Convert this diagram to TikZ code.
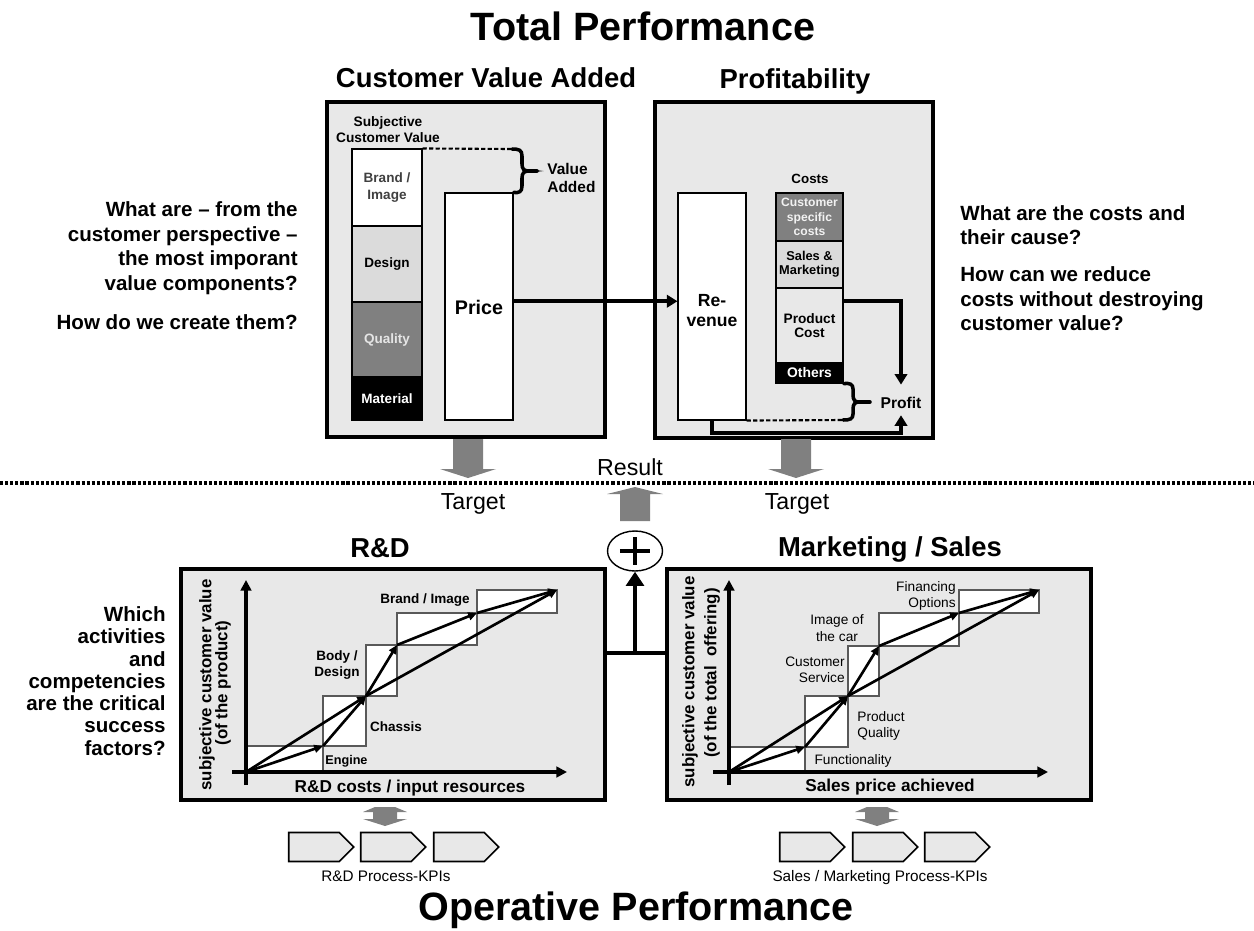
\documentclass[tikz,border=0pt]{standalone}
\usepackage{fontspec}
\setmainfont{Liberation Sans}
\usetikzlibrary{arrows.meta,fit,calc,shapes.geometric,shapes.symbols}

\definecolor{panelbg}{gray}{0.91}
\definecolor{lightfill}{gray}{0.86}
\definecolor{midfill}{gray}{0.5}
\definecolor{arrowgray}{gray}{0.5}
\definecolor{paletext}{gray}{0.9}

\newcommand\fsz[2]{\fontsize{#1pt}{#2pt}\selectfont}

\tikzset{
  panel/.style={draw, line width=2.6pt, fill=panelbg, inner sep=0pt},
  colbox/.style={draw, line width=0.6pt, inner sep=0pt},
  boxtext/.style={inner sep=0pt, align=center, font=\fsz{7.7}{9.4}\bfseries},
  stepbox/.style={draw=black!65, line width=0.6pt, fill=white},
  heading/.style={font=\fsz{15.6}{18}\bfseries, anchor=base, inner sep=0pt},
  bigtitle/.style={font=\fsz{22.5}{26}\bfseries, anchor=base, inner sep=0pt},
  question/.style={font=\fsz{11.7}{14}\bfseries, inner sep=0pt},
  flowarrow/.style={line width=2.3pt, -{Triangle[length=6pt,width=7pt]}},
  flowline/.style={line width=2.3pt},
  bracket/.style={line width=2pt, line cap=round},
  gapline/.style={line width=1.2pt, dash pattern=on 2.4pt off 1.3pt},
  separator/.style={line width=1.8pt, dash pattern=on 1.8pt off 1.1pt},
  axis/.style={line width=2.2pt, -{Triangle[length=6pt,width=6pt]}},
  gain/.style={line width=1.5pt, -{Triangle[length=5pt,width=4.5pt]}},
  steplabel/.style={font=\fsz{7.7}{9.2}\bfseries, inner sep=0pt, align=center},
  offerlabel/.style={font=\fsz{7.8}{9.4}, inner sep=0pt},
  axislabel/.style={font=\fsz{9.8}{11}\bfseries, inner sep=0pt},
  ylabel/.style={font=\fsz{9.6}{11}\bfseries, rotate=90, inner sep=0pt},
  chevron/.style={signal, signal to=east, signal pointer angle=90, draw, line width=0.9pt,
    fill=panelbg, minimum width=1.3cm, minimum height=0.58cm, inner sep=0pt},
  kpilabel/.style={font=\fsz{8.7}{10}, inner sep=0pt, anchor=base},
  marker/.style={font=\fsz{13.2}{15}, inner sep=0pt},
  pics/down gray/.style={code={\fill[arrowgray] (-15,0) -- (15,0) -- (15,30) -- (28,30) -- (0,39) -- (-28,30) -- (-15,30) -- cycle;}},
  pics/up gray/.style={code={\fill[arrowgray] (-15,0) -- (15,0) -- (15,-27) -- (28,-27) -- (0,-34) -- (-28,-27) -- (-15,-27) -- cycle;}},
  pics/updown gray/.style={code={\fill[arrowgray] (-10,-9) -- (10,-9) -- (22,-4) -- (12,-4) -- (12,3) -- (22,3) -- (0,10) -- (-22,3) -- (-12,3) -- (-12,-4) -- (-22,-4) -- cycle;}},
}

\begin{document}
\begin{tikzpicture}[x=0.02cm, y=-0.02cm]
\useasboundingbox[fill=white] (0,0) rectangle (1254,930);

% ---------- titles ----------
\node[bigtitle] (tp) at (643,40) {Total Performance};
\node[heading] (cvat) at (486,87) {Customer Value Added};
\node[heading] (proft) at (795,88) {Profitability};

% ---------- customer value added ----------
\node[panel, fit={(327,102) (605,437)}] (cva) {};
\node[font=\fsz{7.8}{9}\bfseries, align=center, inner sep=0pt] (scv) at (388,130) {Subjective\\Customer Value};
\node[colbox, fill=white, fit={(352,149) (422,226)}] (brand) {};
\node[boxtext, text=black!75] (brandt) at (brand.center) {Brand /\\Image};
\node[colbox, fill=lightfill, fit={(352,226) (422,302)}] (design) {};
\node[boxtext] (designt) at (design.center) {Design};
\node[colbox, fill=midfill, fit={(352,302) (422,377)}] (quality) {};
\node[boxtext, text=paletext] (qualityt) at (quality.center) {Quality};
\node[colbox, fill=black, fit={(352,377) (422,420)}] (material) {};
\node[boxtext, text=white] (materialt) at (material.center) {Material};
\node[colbox, fill=white, fit={(445,193) (513,420)}] (price) {};
\node[boxtext, font=\fsz{11.2}{13}\bfseries] (pricet) at ([yshift=-0.8pt]price.center) {Price};
\draw[gapline] (brand.north east) -- (512,149);
\draw[bracket] (512,149) .. controls (519,149) and (522,150) .. (522,156) -- (522,164)
  .. controls (522,169) and (524,171) .. (529,171)
  .. controls (524,171) and (522,173) .. (522,178) -- (522,186)
  .. controls (522,192) and (519,193) .. (price.north east);
\draw[bracket] (529,171) -- (537,171);
\node[font=\fsz{8.8}{10.6}\bfseries, align=left, anchor=west, inner sep=0pt] (va) at (547,178) {Value\\Added};

% ---------- profitability ----------
\node[panel, fit={(655,102) (933,438)}] (prof) {};
\node[font=\fsz{7.6}{9}\bfseries, inner sep=0pt] (costs) at (810,179) {Costs};
\node[colbox, fill=midfill, fit={(776,193) (843,241)}] (csc) {};
\node[boxtext, text=white!95!black, font=\fsz{6.9}{8.2}\bfseries] (csct) at (csc.center) {Customer\\specific\\costs};
\node[colbox, fill=lightfill, fit={(776,241) (843,288)}] (sales) {};
\node[boxtext, font=\fsz{7.3}{8.2}\bfseries] (salest) at (sales.center) {Sales \&\\Marketing};
\node[colbox, fill=panelbg, fit={(776,288) (843,363)}] (pcost) {};
\node[boxtext, font=\fsz{7.8}{8.2}\bfseries] (pcostt) at (pcost.center) {Product\\Cost};
\node[colbox, fill=black, fit={(776,363) (843,383)}] (others) {};
\node[boxtext, text=white, font=\fsz{7.9}{9}\bfseries] (otherst) at (others.center) {Others};
\node[colbox, fill=white, fit={(678,193) (746,420)}] (rev) {};
\node[boxtext, font=\fsz{10}{11.3}\bfseries] (revt) at ([yshift=-2.5pt]rev.center) {Re-\\venue};
\node[font=\fsz{8.9}{10}\bfseries, inner sep=2pt] (profit) at (901,403) {Profit};
\draw[gapline] (rev.south east) -- (843,420);
\draw[bracket] (others.south east) .. controls (850,383) and (853,384) .. (853,389) -- (853,395)
  .. controls (853,400) and (855,402) .. (859,402)
  .. controls (855,402) and (853,404) .. (853,409) -- (853,414)
  .. controls (853,419) and (850,420) .. (843,420);
\draw[bracket] (859,402) -- (870,402);

% flows between the panels
\draw[flowarrow] ([yshift=3pt]price.east) -- ([yshift=3pt]rev.west);
\draw[flowarrow] ([yshift=14pt]pcost.east) -| ([yshift=5pt]profit.north);
\draw[flowarrow] (rev.south) -- ++(0,12) -| ([yshift=-1.5pt]profit.south);

% ---------- questions ----------
\node[question, align=right, anchor=east] (q1) at (298,248) {What are – from the\\customer perspective –\\the most imporant\\value components?};
\node[question, anchor=east] (q2) at (298,322) {How do we create them?};
\node[question, align=left, anchor=west] (q3) at (960,225) {What are the costs and\\their cause?};
\node[question, align=left, anchor=west] (q4) at (960,299) {How can we reduce\\costs without destroying\\customer value?};
\node[question, align=right, anchor=east, font=\fsz{11.7}{12.65}\bfseries] (q5) at (166,681) {Which\\activities\\and\\competencies\\are the critical\\success\\factors?};

% ---------- target / result band ----------
\pic at (468,439) {down gray};
\pic at (796,439) {down gray};
\coordinate (sepL) at (0,483);
\coordinate (sepR) at (1254,483);
\draw[separator] (sepL) -- (sepR);
\node[marker] (res) at (630,467) {Result};
\node[marker] (tg1) at (473,504) {Target};
\node[marker] (tg2) at (797,504) {Target};
\pic at (635,521) {up gray};
\node[ellipse, draw, line width=0.8pt, fill=white, minimum width=1.1cm, minimum height=0.8cm,
  inner sep=0pt] (plus) at (635,551) {};
\draw[line width=2.8pt] ([xshift=-8.6pt]plus.center) -- ([xshift=8.6pt]plus.center);
\draw[line width=2.8pt] ([yshift=-7.8pt]plus.center) -- ([yshift=7.8pt]plus.center);

% ---------- R&D ----------
\node[heading] (rdt) at (380,557) {R\&D};
\node[panel, fit={(181,569) (605,800)}] (rd) {};
\coordinate (r0) at (246,772);
\coordinate (r1) at (323,746);
\coordinate (r2) at (366,696);
\coordinate (r3) at (397,645);
\coordinate (r4) at (477,613);
\coordinate (r5) at (557,590);
\foreach \a/\b in {r0/r1,r1/r2,r2/r3,r3/r4,r4/r5} \draw[stepbox] (\a) rectangle (\b);
\coordinate (rxa) at (232,772); \coordinate (rxb) at (567,772);
\coordinate (rya) at (246,785); \coordinate (ryb) at (246,580);
\draw[axis] (rxa) -- (rxb);
\draw[axis] (rya) -- (ryb);
\foreach \a/\b in {r0/r1,r1/r2,r2/r3,r3/r4,r4/r5,r0/r2,r2/r5} \draw[gain] (\a) -- (\b);
\node[steplabel, anchor=west, font=\fsz{7.2}{9}\bfseries] (eng) at (325,761) {Engine};
\node[steplabel] (chs) at (396,727) {Chassis};
\node[steplabel] (bod) at (337,665) {Body /\\Design};
\node[steplabel] (bri) at (425,600) {Brand / Image};
\node[axislabel] (rdx) at (410,788) {R\&D costs / input resources};
\node[ylabel] (rdy1) at (207,685) {subjective customer value};
\node[ylabel] (rdy2) at (223,683) {(of the product)};

% ---------- Marketing / Sales ----------
\node[heading] (mst) at (890,556) {Marketing / Sales};
\node[panel, fit={(667,569) (1091,800)}] (ms) {};
\coordinate (m0) at (729,772);
\coordinate (m1) at (805,747);
\coordinate (m2) at (848,696);
\coordinate (m3) at (879,646);
\coordinate (m4) at (959,613);
\coordinate (m5) at (1039,590);
\foreach \a/\b in {m0/m1,m1/m2,m2/m3,m3/m4,m4/m5} \draw[stepbox] (\a) rectangle (\b);
\coordinate (mxa) at (713,772); \coordinate (mxb) at (1048,772);
\coordinate (mya) at (729,785); \coordinate (myb) at (729,580);
\draw[axis] (mxa) -- (mxb);
\draw[axis] (mya) -- (myb);
\foreach \a/\b in {m0/m1,m1/m2,m2/m3,m3/m4,m4/m5,m0/m2,m2/m5} \draw[gain] (\a) -- (\b);
\node[offerlabel] (fun) at (853,761) {Functionality};
\node[offerlabel, align=left, anchor=west] (pq) at (857,726) {Product\\Quality};
\node[offerlabel, align=right, anchor=east] (cs) at (845,670) {Customer\\Service};
\node[offerlabel, align=center] (img) at (837,628) {Image of\\the car};
\node[offerlabel, align=right, anchor=east] (fin) at (956,596) {Financing\\Options};
\node[axislabel] (msx) at (890,787) {Sales price achieved};
\node[ylabel] (msy1) at (690,682) {subjective customer value};
\node[ylabel] (msy2) at (712,673) {(of the total~ offering)};

% both functions add up to the result
\coordinate (join) at (635,653);
\draw[flowline] (rd.east |- join) -- (ms.west |- join);
\draw[line width=2.8pt, -{Triangle[length=8pt,width=10pt]}] (join) -- (plus.south);

% ---------- process KPIs ----------
\pic at (385,816) {updown gray};
\pic at (877,816) {updown gray};
\node[chevron] (k1) at (314,847) {};
\node[chevron] (k2) at (386,847) {};
\node[chevron] (k3) at (459,847) {};
\node[chevron] (k4) at (805,847) {};
\node[chevron] (k5) at (878,847) {};
\node[chevron] (k6) at (950,847) {};
\node[kpilabel] (kpi1) at (386,881) {R\&D Process-KPIs};
\node[kpilabel] (kpi2) at (880,881) {Sales / Marketing Process-KPIs};

\node[bigtitle] (op) at (636,920) {Operative Performance};
\end{tikzpicture}
\end{document}
